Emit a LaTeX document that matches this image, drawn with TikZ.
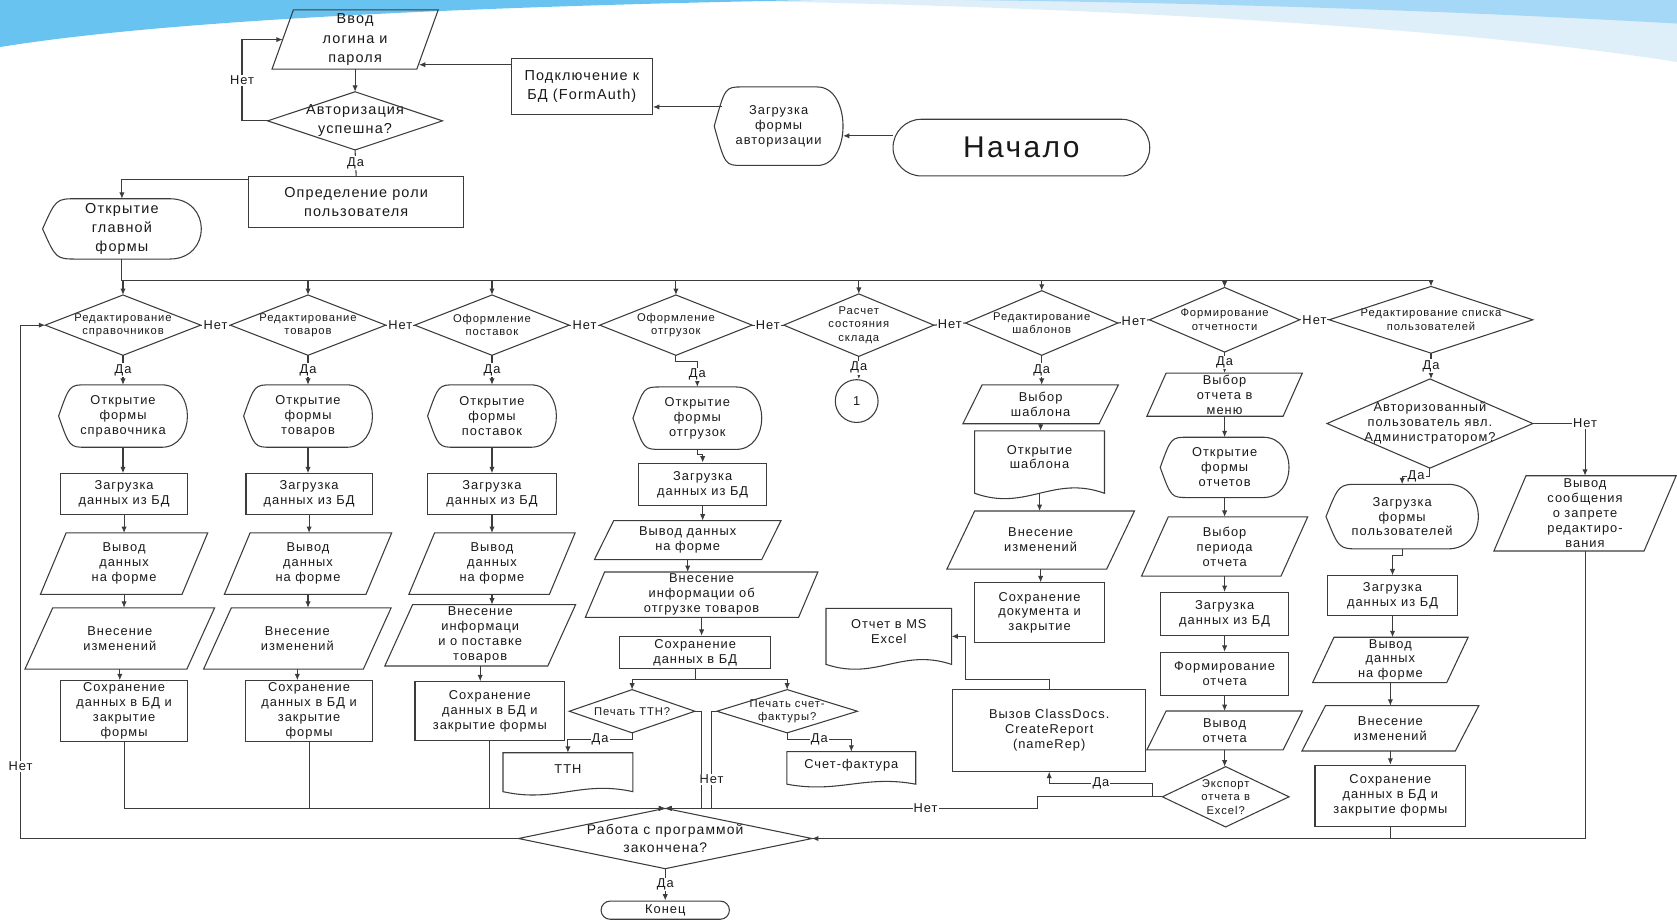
\documentclass[tikz,border=0pt]{standalone}
\usepackage{fontspec}
\setmainfont{Liberation Sans}[LetterSpace=8]
\usetikzlibrary{arrows.meta,shapes.misc}
\definecolor{linec}{RGB}{60,60,60}
\definecolor{skyA}{RGB}{105,195,240}
\definecolor{skyB}{RGB}{222,239,250}
\definecolor{skyC}{RGB}{165,216,246}
\newcommand\fsN{\fontsize{12}{14}\selectfont}
\newcommand\fsT{\fontsize{13.5}{18}\selectfont}
\newcommand\fsD{\fontsize{10.5}{12.5}\selectfont}
\newcommand\fsL{\fontsize{12}{14}\selectfont}
\tikzset{
  wire/.style={draw=linec, line width=1pt},
  wirea/.style={wire, -{Latex[length=6pt,width=5pt]}},
  txt/.style={inner sep=0pt, align=center, text=black!90, font=\fsN},
  proc/.style={txt, wire, rectangle},
  term/.style={txt, wire, rounded rectangle},
  lab/.style={fill=white, inner sep=1pt, text=black!90, font=\fsL},
}
% decision: [opts]{name}{x,y}{w}{h}{text}
\newcommand\decnode[6][]{%
  \node[txt, font=\fsD, minimum width=#4pt, minimum height=#5pt, #1] (#2) at (#3) {#6};
  \draw[wire] (#2.north) -- (#2.east) -- (#2.south) -- (#2.west) -- cycle;}
% data: [opts]{name}{x,y}{w}{h}{slant}{text}
\newcommand\parnode[7][]{%
  \node[txt, minimum width=#4pt, minimum height=#5pt, #1] (#2) at (#3) {#7};
  \draw[wire] ([xshift=#6pt]#2.north west) -- (#2.north east)
    -- ([xshift=-#6pt]#2.south east) -- (#2.south west) -- cycle;}
% display: [opts]{name}{x,y}{w}{h}{text}
\newcommand\dispnode[6][]{%
  \node[txt, minimum width=#4pt, minimum height=#5pt, #1] (#2) at (#3) {#6};
  \draw[wire] ([xshift=0.22*#4pt]#2.north west) -- ([xshift=-0.2*#4pt]#2.north east)
    .. controls ([xshift=0.067*#4pt]#2.north east) and ([xshift=0.067*#4pt]#2.south east) .. ([xshift=-0.2*#4pt]#2.south east)
    -- ([xshift=0.22*#4pt]#2.south west) .. controls ([xshift=0.085*#4pt]#2.south west) .. (#2.west)
    .. controls ([xshift=0.085*#4pt]#2.north west) .. ([xshift=0.22*#4pt]#2.north west) -- cycle;}
% document: [opts]{name}{x,y}{w}{h}{text}
\newcommand\docnode[6][]{%
  \node[txt, minimum width=#4pt, minimum height=#5pt, #1] (#2) at (#3) {};
  \draw[wire] (#2.north west) -- (#2.north east) -- (#2.south east)
    .. controls ([xshift=-0.4*#4pt, yshift=0.3*#5pt]#2.south east) and ([xshift=0.4*#4pt, yshift=-0.3*#5pt]#2.south west) .. (#2.south west) -- cycle;
  \node[txt, #1] (#2t) at ([yshift=0.08*#5pt]#2.center) {#6};}

\begin{document}
\begin{tikzpicture}[x=1pt, y=-1pt]
\useasboundingbox (0,0) rectangle (1568,860);
% header swoosh
\fill[skyB] (640,0) -- (1568,0) -- (1568,58) .. controls (1380,28) and (1050,6) .. (640,0) -- cycle;
\fill[skyC] (900,0) -- (1568,0) -- (1568,22) .. controls (1350,10) and (1150,3) .. (900,0) -- cycle;
\fill[skyA] (0,0) -- (760,0) .. controls (450,6) and (160,18) .. (0,44) -- cycle;

% login part
\parnode[font=\fsT]{input}{332,37}{155}{55}{20}{Ввод\\логина и\\пароля}
\decnode[font=\fsT]{auth}{332,113}{163}{54}{Авторизация\\успешна?}
\node[proc, font=\fsT, minimum width=201pt, minimum height=48pt] (role) at (333,189) {Определение роли\\пользователя};
\dispnode[font=\fsT]{openMain}{114,214}{148}{56}{Открытие\\главной\\формы}
\node[proc, font=\fsT, minimum width=132pt, minimum height=52pt] (dbconn) at (544,81) {Подключение к\\БД (FormAuth)};
\dispnode{loadAuth}{728,118}{120}{73}{Загрузка\\формы\\авторизации}
\node[term, font=\fontsize{28}{32}\selectfont, minimum width=240pt, minimum height=53pt] (start) at (955,138) {Начало};
\coordinate (inR) at ([xshift=-18pt]input.east);

\draw[wirea] ([yshift=11pt]start.west) -- ([yshift=11pt]start.west -| loadAuth.east);
\draw[wirea] ([xshift=7pt,yshift=18pt]loadAuth.west) -- ([yshift=18pt]loadAuth.west -| dbconn.east);
\draw[wirea] ([yshift=-6pt]dbconn.north west) -- ([yshift=-6pt]dbconn.north west -| inR);
\draw[wirea] (input.south) -- (auth.north);
\draw[wirea] (auth.west) -- ++(-24,0) |- node[lab, pos=0.25]{Нет} ([xshift=10pt]input.west);
\draw[wire] (auth.south) -- node[lab]{Да} (role.north);
\draw[wirea] ([yshift=-3pt]role.north west) -| (openMain.north);

% column 1
\decnode{d1}{115,304}{145}{56}{Редактирование\\справочников}
\dispnode{open1}{115,389}{120}{58}{Открытие\\формы\\справочника}
\node[proc, minimum width=118pt, minimum height=38pt] (load1) at (116,462) {Загрузка\\данных из БД};
\parnode{out1}{116,527}{156}{57}{24}{Вывод\\данных\\на форме}
\parnode{edit1}{112,597}{177}{57}{26}{Внесение\\изменений}
\node[proc, minimum width=119pt, minimum height=57pt] (save1) at (116,665) {Сохранение\\данных в БД и\\закрытие\\формы};

% column 2
\decnode{d2}{288,304}{145}{56}{Редактирование\\товаров}
\dispnode{open2}{288,389}{120}{58}{Открытие\\формы\\товаров}
\node[proc, minimum width=118pt, minimum height=38pt] (load2) at (289,462) {Загрузка\\данных из БД};
\parnode{out2}{288,527}{156}{57}{24}{Вывод\\данных\\на форме}
\parnode{edit2}{278,597}{175}{57}{26}{Внесение\\изменений}
\node[proc, minimum width=119pt, minimum height=57pt] (save2) at (289,665) {Сохранение\\данных в БД и\\закрытие\\формы};

% column 3
\decnode{d3}{460,304}{144}{56}{Оформление\\поставок}
\dispnode{open3}{460,389}{120}{58}{Открытие\\формы\\поставок}
\node[proc, minimum width=120pt, minimum height=38pt] (load3) at (460,462) {Загрузка\\данных из БД};
\parnode{out3}{460,527}{155}{57}{24}{Вывод\\данных\\на форме}
\parnode{info3}{449,594}{178}{57}{26}{Внесение\\информаци\\и о поставке\\товаров}
\node[proc, minimum width=140pt, minimum height=55pt] (save3) at (458,665) {Сохранение\\данных в БД и\\закрытие формы};

% column 4
\decnode{d4}{632,304}{142}{56}{Оформление\\отгрузок}
\dispnode{open4}{652,391}{120}{58}{Открытие\\формы\\отгрузок}
\node[proc, minimum width=120pt, minimum height=40pt] (load4) at (657,453) {Загрузка\\данных из БД};
\parnode{out4}{643,505}{174}{36}{18}{Вывод данных\\на форме}
\parnode{info4}{656,556}{217}{42}{18}{Внесение\\информации об\\отгрузке товаров}
\node[proc, minimum width=141pt, minimum height=30pt] (save4) at (650,610) {Сохранение\\данных в БД};
\decnode{ttnq}{591,665}{117}{40}{Печать ТТН?}
\decnode{sfq}{736,665}{131}{40}{Печать счет-\\фактуры?}
\docnode{ttn}{531,722}{121}{36}{ТТН}
\docnode{sf}{796,718}{120}{30}{Счет-фактура}

% column 5
\decnode{d5}{803,304}{140}{58}{Расчет\\состояния\\склада}
\node[txt, wire, circle, minimum size=40pt] (c1) at (801,375) {1};

% column 6
\decnode{d6}{974,302}{142}{60}{Редактирование\\шаблонов}
\parnode{selT}{973,378}{145}{36}{18}{Выбор\\шаблона}
\docnode{openT}{972,432}{121}{58}{Открытие\\шаблона}
\parnode{editT}{973,505}{175}{54}{26}{Внесение\\изменений}
\node[proc, minimum width=121pt, minimum height=56pt] (saveT) at (972,573) {Сохранение\\документа и\\закрытие};
\docnode{excel}{831,595}{117}{52}{Отчет в MS\\Excel}
\node[proc, minimum width=180pt, minimum height=76pt] (call) at (981,683) {Вызов ClassDocs.\\CreateReport\\(nameRep)};

% column 7
\decnode{d7}{1145,299}{140}{60}{Формирование\\отчетности}
\parnode{selR}{1145,369}{145}{40}{18}{Выбор\\отчета в\\меню}
\dispnode{openR}{1145,437}{120}{56}{Открытие\\формы\\отчетов}
\parnode{perR}{1145,511}{155}{55}{25}{Выбор\\периода\\отчета}
\node[proc, minimum width=120pt, minimum height=40pt] (loadR) at (1145,574) {Загрузка\\данных из БД};
\node[proc, minimum width=120pt, minimum height=40pt] (formR) at (1145,630) {Формирование\\отчета};
\parnode{outR}{1145,683}{145}{36}{18}{Вывод\\отчета}
\decnode{exp}{1146,745}{118}{56}{Экспорт\\отчета в\\Excel?}

% column 8
\decnode{d8}{1338,299}{190}{62}{Редактирование списка\\пользователей}
\decnode[font=\fsN]{admq}{1337,396}{192}{83}{Авторизованный\\пользователь явл.\\Администратором?}
\parnode{msg}{1482,480}{170}{70}{30}{Вывод\\сообщения\\о запрете\\редактиро-\\вания}
\dispnode{loadU}{1311,483}{142}{60}{Загрузка\\формы\\пользователей}
\node[proc, minimum width=122pt, minimum height=37pt] (loadD) at (1302,557) {Загрузка\\данных из БД};
\parnode{outD}{1300,617}{145}{42}{20}{Вывод\\данных\\на форме}
\parnode{editD}{1300,681}{165}{42}{22}{Внесение\\изменений}
\node[proc, minimum width=141pt, minimum height=57pt] (saveD) at (1300,744) {Сохранение\\данных в БД и\\закрытие формы};

% end of work
\decnode[font=\fontsize{13}{17}\selectfont]{work}{622,784}{274}{56}{Работа с программой\\закончена?}
\node[term, minimum width=120pt, minimum height=17pt] (fin) at (622,851) {Конец};

% bus to the menu checks
\draw[wire] (openMain.south) -- ++(0,20) coordinate (bus) -- (bus -| d8.north);
\foreach \dn in {d1,d2,d3,d4,d5,d6,d7,d8}
  \draw[wirea] (bus -| \dn.north) -- (\dn.north);
\foreach \a/\b in {d1/d2,d2/d3,d3/d4,d4/d5,d5/d6,d6/d7,d7/d8}
  \draw[wire] (\a.east) -- node[lab]{Нет} (\b.west);
\foreach \a/\b in {d1/open1,d2/open2,d3/open3,d5/c1,d6/selT,d7/selR,d8/admq}
  \draw[wirea] (\a.south) -- node[lab]{Да} (\a.south |- \b.north);
\foreach \a/\b in {open1/load1,load1/out1,out1/edit1,edit1/save1,
    open2/load2,load2/out2,out2/edit2,edit2/save2,
    open3/load3,load3/out3,out3/info3,info3/save3,
    load4/out4,out4/info4,info4/save4,
    selT/openT,openT/editT,editT/saveT,
    selR/openR,openR/perR,perR/loadR,loadR/formR,formR/outR,outR/exp,
    loadD/outD,outD/editD,editD/saveD}
  \draw[wirea] (\a.south) -- (\a.south |- \b.north);

% shipments
\draw[wirea] (d4.south) -- ++(0,6) -| node[lab, pos=0.75]{Да} (open4.north);
\draw[wirea] (open4.south) -- ++(0,5) -| (load4.north);
\draw[wire] (save4.south) -- ++(0,10) coordinate (split);
\draw[wirea] (split) -| (ttnq.north);
\draw[wirea] (split) -| (sfq.north);
\draw[wirea] (ttnq.south) -- ++(0,6) -| node[lab, pos=0.25]{Да} (ttn.north);
\draw[wirea] (sfq.south) -- ++(0,6) -| node[lab, pos=0.25]{Да} (sf.north);
\draw[wirea] (ttnq.east) -- ++(6,0) |- (work.north);
\draw[wirea] (sfq.west) -- ++(-5,0) |- node[lab, pos=0.35]{Нет} (work.north);

% reports
\draw[wirea] (call.north) -- ++(0,-9) -| ([xshift=13pt]excel.east) -- (excel.east);
\draw[wirea] (exp.west) -- ++(-9,0) |- node[lab, pos=0.75]{Да} ([yshift=-11pt]call.south) -- (call.south);
\draw[wirea] (exp.west) -- ++(-117,0) |- node[lab, pos=0.65]{Нет} (work.north);

% users
\draw[wirea] (admq.east) -| node[lab, pos=0.5]{Нет} (msg.north);
\draw[wirea] (admq.south) -- ++(0,8) -| node[lab, pos=0.25]{Да} (loadU.north);
\draw[wirea] (loadU.south) -- ++(0,6) -| (loadD.north);
\draw[wirea] (msg.south) |- (work.east);
\draw[wire] (saveD.south) -- (saveD.south |- work.east);

% back to the menu or finish
\foreach \s in {save1,save2,save3}
  \draw[wirea] (\s.south) |- (work.north);
\draw[wirea] (work.west) -| node[lab, pos=0.57]{Нет} ([xshift=-23pt]d1.west) -- (d1.west);
\draw[wirea] (work.south) -- node[lab]{Да} (fin.north);
\end{tikzpicture}
\end{document}
